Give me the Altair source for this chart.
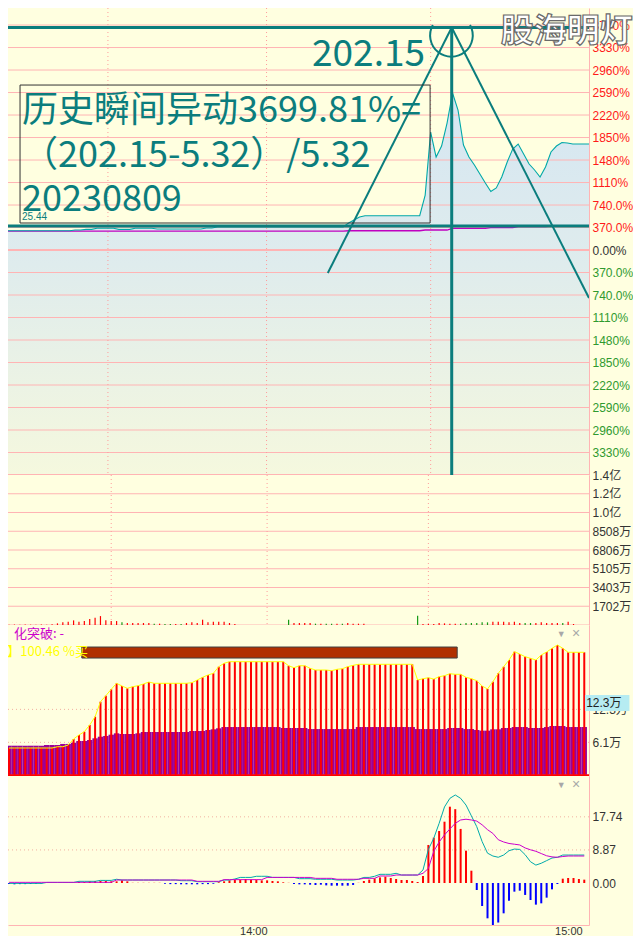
import json
import altair as alt
import pandas as pd

# ---------------- data ----------------
minute_index = list(range(108))

price_change_pct = [
    317, 317, 317, 317, 317, 317, 317, 317, 317, 317,
    317, 317, 317, 329, 329, 340, 340, 357, 357, 357,
    357, 340, 340, 340, 357, 357, 357, 357, 345, 345,
    345, 345, 345, 345, 345, 345, 345, 362, 362, 378,
    378, 378, 378, 378, 378, 378, 378, 378, 378, 378,
    378, 378, 378, 378, 378, 378, 378, 378, 378, 378,
    378, 378, 378, 444, 493, 543, 564, 564, 564, 564,
    564, 564, 564, 564, 564, 564, 564, 904, 1940, 1529,
    1710, 2088, 2582, 2302, 1727, 1529, 1398, 1250, 1102, 962,
    1020, 1200, 1447, 1661, 1743, 1579, 1414, 1316, 1200, 1365,
    1612, 1710, 1768, 1760, 1743, 1743, 1743, 1743,
]

avg_price_pct = [
    310, 310, 310, 310, 310, 310, 310, 310, 310, 310,
    310, 310, 310, 312, 312, 312, 312, 312, 312, 312,
    312, 312, 312, 312, 312, 312, 312, 312, 312, 312,
    312, 312, 312, 312, 312, 312, 312, 312, 312, 312,
    312, 312, 312, 312, 312, 312, 312, 312, 312, 312,
    312, 312, 312, 312, 312, 312, 312, 312, 312, 312,
    312, 312, 312, 317, 317, 317, 317, 317, 317, 317,
    317, 317, 317, 317, 317, 317, 317, 329, 329, 329,
    329, 329, 357, 357, 357, 357, 357, 357, 357, 367,
    367, 367, 367, 367, 383, 383, 383, 383, 383, 383,
    392, 392, 392, 392, 392, 392, 392, 392,
]

volume_wan = [
    30, 40, 30, 50, 30, 30, 40, 30, 60, 150,
    240, 300, 420, 300, 360, 540, 660, 810, 420, 360,
    360, 240, 180, 180, 180, 180, 180, 120, 120, 90,
    90, 90, 90, 180, 240, 180, 480, 240, 300, 300,
    300, 180, 90, 0, 0, 0, 0, 0, 0, 0,
    0, 0, 480, 180, 180, 180, 180, 120, 120, 120,
    120, 120, 120, 180, 120, 120, 120, 0, 0, 0,
    0, 0, 0, 0, 0, 0, 840, 90, 90, 90,
    180, 150, 120, 120, 120, 180, 180, 180, 240, 240,
    300, 300, 300, 240, 300, 180, 180, 180, 180, 240,
    180, 180, 180, 180, 300, 90, 0, 0,
]

volume_dir = [
    1, 1, 1, 1, 1, 1, 1, 1, 1, 1,
    1, 1, 1, 1, 1, 1, 1, 1, 1, 1,
    1, -1, 1, 1, 1, 1, 1, -1, 1, -1,
    -1, 1, -1, 1, 1, 1, 1, 1, 1, 1,
    1, 1, 1, 1, 1, 1, 1, 1, 1, 1,
    1, 1, -1, 1, 1, 1, 1, -1, 1, -1,
    -1, 1, -1, 1, 1, 1, 1, 1, 1, 1,
    1, 1, 1, 1, 1, 1, -1, 1, 1, 1,
    1, 1, 1, 1, -1, -1, -1, -1, -1, -1,
    1, 1, 1, 1, 1, 1, -1, -1, 1, 1,
    1, 1, 1, -1, 1, 1, 1, 1,
]

strength_red = [
    5.04, 5.04, 5.04, 5.04, 5.04, 5.04, 5.04, 5.04, 5.04, 5.28,
    5.28, 5.6, 6.73, 7.48, 8.1, 9.36, 10.92, 13.74, 14.87, 16.07,
    17.2, 16.69, 16.26, 16.56, 16.75, 17.07, 17.44, 17.2, 17.2, 17.2,
    17.2, 17.2, 17.2, 17.2, 17.31, 17.82, 18.33, 18.76, 19.08, 20.32,
    20.96, 21.26, 21.26, 21.26, 21.26, 21.26, 21.26, 21.26, 21.26, 21.26,
    21.26, 21.26, 20.5, 20.13, 20.5, 20.5, 20.02, 19.7, 19.7, 19.7,
    19.57, 19.83, 19.94, 20.32, 20.58, 20.77, 20.77, 20.77, 20.77, 20.77,
    20.77, 20.77, 20.77, 20.77, 20.77, 20.77, 17.82, 18.06, 18.25, 18.0,
    18.44, 18.63, 19.0, 18.89, 18.89, 18.33, 18.06, 17.69, 16.69, 16.13,
    17.5, 19.08, 20.32, 21.58, 23.14, 22.7, 22.2, 21.9, 21.58, 22.52,
    23.08, 23.78, 24.4, 23.78, 23.03, 23.03, 23.03, 23.03,
]

strength_purple = [
    5.47, 5.47, 5.47, 5.47, 5.47, 5.47, 5.47, 5.6, 5.6, 5.6,
    5.8, 5.8, 6.03, 6.35, 6.35, 6.54, 6.86, 7.16, 7.3, 7.54,
    7.8, 7.67, 7.67, 7.67, 7.8, 8.05, 8.05, 8.05, 8.05, 8.05,
    8.05, 8.05, 8.05, 8.05, 8.23, 8.23, 8.23, 8.42, 8.55, 8.74,
    8.98, 8.98, 8.98, 8.98, 8.98, 8.98, 8.98, 8.98, 8.98, 8.98,
    8.98, 8.8, 8.8, 8.8, 8.8, 8.8, 8.6, 8.6, 8.6, 8.6,
    8.6, 8.6, 8.6, 8.6, 8.6, 8.98, 8.98, 8.98, 8.98, 8.98,
    8.98, 8.98, 8.98, 8.98, 8.98, 8.98, 8.6, 8.6, 8.6, 8.6,
    8.6, 8.6, 8.8, 8.8, 8.8, 8.6, 8.6, 8.42, 8.3, 8.3,
    8.55, 8.55, 8.8, 8.8, 8.98, 8.98, 8.98, 8.8, 8.8, 8.8,
    8.98, 9.17, 9.17, 9.17, 8.98, 8.98, 8.98, 8.98,
]

macd_hist = [
    -0.3, -0.35, -0.3, -0.3, -0.25, -0.2, -0.15, 0.05, 0.05, 0.05,
    0.05, 0.1, 0.15, 0.27, 0.27, 0.45, 0.54, 0.54, 0.54, 0.45,
    0.45, 0.71, 0.45, 0.05, 0.05, 0.05, 0.05, 0.05, 0.05, -0.2,
    -0.3, -0.3, -0.35, -0.35, -0.35, -0.35, -0.3, -0.3, -0.2, 0.2,
    0.45, 0.71, 0.9, 0.9, 1.07, 0.9, 0.9, 0.71, 0.71, 0.54,
    0.45, 0.18, 0.05, -0.27, -0.36, -0.36, -0.45, -0.54, -0.45, -0.63,
    -0.71, -0.71, -0.71, -0.71, -0.54, 0.05, 0.54, 0.9, 1.25, 1.5,
    1.7, 1.34, 1.07, 0.8, 0.8, 0.54, 0.27, 1.88, 10.2, 12.15,
    13.94, 16.44, 20.46, 19.8, 14.5, 8.67, 3.3, -1.88, -6.17, -9.47,
    -11.4, -10.6, -8.13, -4.74, -2.32, -2.06, -3.2, -4.56, -5.8, -5.45,
    -3.93, -1.7, -0.27, 1.16, 1.34, 1.34, 1.07, 0.9,
]

macd_dif = [
    -0.1, -0.1, -0.1, -0.1, -0.1, -0.1, -0.1, 0.15, 0.15, 0.15,
    0.15, 0.15, 0.15, 0.45, 0.45, 0.45, 0.45, 0.7, 0.7, 0.7,
    1.0, 0.8, 0.8, 0.8, 0.8, 0.8, 0.8, 0.8, 0.8, 0.8,
    0.8, 0.8, 0.62, 0.62, 0.62, 0.35, 0.35, 0.35, 0.35, 0.35,
    0.8, 0.8, 1.07, 1.5, 1.5, 1.5, 1.8, 1.8, 1.8, 1.5,
    1.5, 1.5, 1.5, 1.5, 1.16, 1.16, 1.16, 1.0, 1.0, 1.0,
    1.0, 0.8, 0.8, 0.8, 0.8, 1.0, 1.5, 1.5, 1.8, 2.33,
    2.33, 2.33, 2.6, 2.14, 2.14, 2.14, 2.14, 3.5, 9.0, 12.0,
    16.0, 20.4, 22.7, 23.6, 22.7, 20.9, 18.0, 15.1, 11.1, 8.0,
    7.24, 6.9, 7.5, 8.66, 9.1, 9.0, 7.6, 5.7, 4.8, 5.3,
    6.0, 6.7, 6.9, 7.5, 7.5, 7.5, 7.5, 7.5,
]

macd_dea = [
    0.18, 0.18, 0.18, 0.18, 0.18, 0.18, 0.18, 0.18, 0.18, 0.18,
    0.18, 0.18, 0.18, 0.18, 0.18, 0.18, 0.18, 0.18, 0.18, 0.18,
    0.8, 0.8, 0.8, 0.8, 0.8, 0.8, 0.8, 0.8, 0.8, 0.8,
    0.8, 0.8, 0.8, 0.8, 0.8, 0.45, 0.45, 0.45, 0.45, 0.45,
    0.9, 0.9, 0.9, 0.9, 0.9, 0.9, 0.9, 0.9, 1.5, 1.5,
    1.5, 1.5, 1.5, 1.5, 1.5, 1.5, 1.5, 1.25, 1.25, 1.25,
    1.25, 1.0, 1.0, 1.0, 1.0, 1.0, 1.25, 1.25, 1.25, 1.88,
    1.88, 1.88, 2.14, 2.14, 2.14, 2.14, 2.14, 2.6, 3.9, 8.5,
    11.0, 12.9, 14.5, 16.0, 16.9, 17.1, 16.9, 16.6, 15.6, 14.3,
    13.3, 11.6, 11.0, 10.6, 10.4, 10.2, 9.4, 8.9, 8.5, 7.9,
    7.3, 7.0, 6.9, 7.1, 7.24, 7.24, 7.24, 7.24,
]

# tick values / labels
price_tick_values = [3700, 3330, 2960, 2590, 2220, 1850, 1480, 1110, 740, 370, 0,
                     -370, -740, -1110, -1480, -1850, -2220, -2590, -2960, -3330]
price_tick_labels = ["3700%", "3330%", "2960%", "2590%", "2220%", "1850%", "1480%", "1110%",
                     "740.0%", "370.0%", "0.00%", "370.0%", "740.0%", "1110%", "1480%",
                     "1850%", "2220%", "2590%", "2960%", "3330%"]
volume_tick_values = [1702, 3403, 5105, 6806, 8508, 10210, 11911, 13613]
volume_tick_labels = ["1702万", "3403万", "5105万", "6806万", "8508万", "1.0亿", "1.2亿", "1.4亿"]
strength_tick_values = [6.1, 12.3]
strength_tick_labels = ["6.1万", "12.3万"]
macd_tick_values = [0, 8.87, 17.74]
macd_tick_labels = ["0.00", "8.87", "17.74"]
time_tick_values = [48, 106.6]
time_tick_labels = ["14:00", "15:00"]
time_grid_values = [19, 48, 78]

# annotation texts
anno_price_text = "202.15"
anno_box_lines = ["历史瞬间异动3699.81%=", "（202.15-5.32）/5.32", "20230809"]
anno_small_text = "25.44"
watermark_text = "股海明灯"
strength_header = "化突破: -"
strength_sub = "度】100.46 %买"
strength_current = "12.3万"

# ---------------- styling constants ----------------
W = 581
PINK = "#ffb4b4"
TEAL = "#0b7d7d"
BG = "#ffffe0"
LABEL_FONT = "Liberation Sans, Noto Sans CJK SC"
CJK_FONT = "Noto Sans CJK SC"
X_DOMAIN = [0.73, 106.95]

df = pd.DataFrame({
    "i": minute_index,
    "price": price_change_pct,
    "avg": avg_price_pct,
    "vol": volume_wan,
    "vdir": volume_dir,
    "red": strength_red,
    "purple": strength_purple,
    "hist": macd_hist,
    "dif": macd_dif,
    "dea": macd_dea,
})
df["zero"] = 0
df["floor"] = -3700


def lookup_expr(values, labels):
    return f"{json.dumps(labels, ensure_ascii=False)}[indexof({json.dumps(values)}, datum.value)]"


def right_axis(values, labels, color="#333333"):
    return alt.Axis(orient="right", values=values, labelExpr=lookup_expr(values, labels),
                    labelColor=color, grid=False, ticks=False, domain=True, domainColor=PINK,
                    labelPadding=3, labelFlush=False, labelOverlap=False, labelBaseline="middle",
                    labelFont=LABEL_FONT, labelFontSize=12, title=None)


xscale = alt.Scale(domain=X_DOMAIN, nice=False, zero=False)


def encoders(yscale, yaxis, xaxis=None):
    def X(f):
        return alt.X(f, type="quantitative", scale=xscale, axis=xaxis, title=None)

    def Y(f, **kw):
        return alt.Y(f, type="quantitative", scale=yscale, axis=yaxis, title=None, **kw)
    return X, Y


def one(**cols):
    return pd.DataFrame({k: [v] for k, v in cols.items()})


# ================= price panel =================
price_axis = right_axis(price_tick_values, price_tick_labels,
                        {"expr": "datum.value > 0 ? '#ff1a1a' : (datum.value < 0 ? '#2f9a2f' : '#333333')"})
X, Y = encoders(alt.Scale(domain=[-3700, 3980], nice=False, zero=False), price_axis)

grad = alt.Gradient(gradient="linear", x1=0, x2=0, y1=0, y2=1, stops=[
    alt.GradientStop(color="#d5e6f2", offset=0),
    alt.GradientStop(color="#dfeced", offset=0.45),
    alt.GradientStop(color="#f5f8de", offset=1)])

area = alt.Chart(df).mark_area(fill=grad, clip=True).encode(x=X("i"), y=Y("price"), y2=alt.Y2("floor"))
pgrid = alt.Chart(pd.DataFrame({"v": [v for v in price_tick_values if v != 0]})).mark_rule(
    color=PINK, strokeWidth=1, clip=True).encode(y=Y("v"))
pzero = alt.Chart(pd.DataFrame({"v": [0, -3700]})).mark_rule(
    color=PINK, strokeWidth=2, clip=True).encode(y=Y("v"))
pvert = alt.Chart(pd.DataFrame({"t": time_grid_values})).mark_rule(
    color="#ff9c9c", strokeDash=[1, 3], clip=True).encode(x=X("t"))
avg_line = alt.Chart(df).mark_line(color="#c000c0", strokeWidth=1.3, clip=True).encode(x=X("i"), y=Y("avg"))
price_line = alt.Chart(df).mark_line(color="#00a8a8", strokeWidth=1.1, clip=True).encode(x=X("i"), y=Y("price"))
hlines = alt.Chart(pd.DataFrame({"v": [3660, 395]})).mark_rule(
    color=TEAL, strokeWidth=3, clip=True).encode(y=Y("v"))
segs = alt.Chart(pd.DataFrame({
    "x": [81.85, 81.85, 81.85], "y": [3660, 3660, 3660],
    "x2": [81.85, 59.2, 106.95], "y2": [-3700, -378, -789], "w": [3, 2, 2]})).mark_rule(
    color=TEAL, clip=True).encode(
    x=X("x"), y=Y("y"), x2=alt.X2("x2"), y2=alt.Y2("y2"), strokeWidth=alt.StrokeWidth("w:Q", scale=None))
ARC = "M -0.873 -0.488 A 1 1 0 1 0 0.873 -0.488"
arc = alt.Chart(one(x=81.8, y=3529)).mark_point(shape=ARC, size=1815, filled=False, color=TEAL,
                                                  strokeWidth=2, opacity=1).encode(x=X("x"), y=Y("y"))
box = alt.Chart(one(x=2.93, x2=77.9, y=2713, y2=444)).mark_rect(
    fill="transparent", stroke="#333333", strokeWidth=1).encode(
    x=X("x"), x2=alt.X2("x2"), y=Y("y"), y2=alt.Y2("y2"))
t_price = alt.Chart(one(x=76.97, y=3207, s=anno_price_text)).mark_text(
    align="right", baseline="middle", font=CJK_FONT, fontSize=37, color=TEAL).encode(
    x=X("x"), y=Y("y"), text="s:N")
t_box = alt.Chart(pd.DataFrame({"x": [3.29, 3.29, 3.29], "y": [2286, 1546, 822], "s": anno_box_lines})).mark_text(
    align="left", baseline="middle", font=CJK_FONT, fontSize=36, color=TEAL).encode(
    x=X("x"), y=Y("y"), text="s:N")
t_small = alt.Chart(one(x=3.29, y=543, s=anno_small_text)).mark_text(
    align="left", baseline="middle", font=LABEL_FONT, fontSize=10, color=TEAL).encode(
    x=X("x"), y=Y("y"), text="s:N")
t_wm = alt.Chart(one(x=102.9, y=3585, s=watermark_text)).mark_text(
    align="center", baseline="middle", font=CJK_FONT, fontSize=33, fontWeight="bold",
    fill="#ffffff", stroke="#6a6a6a", strokeWidth=1.2).encode(x=X("x"), y=Y("y"), text="s:N")

price_panel = alt.layer(area, pgrid, pzero, pvert, avg_line, price_line, hlines, segs, arc, box,
                        t_price, t_box, t_small, t_wm).properties(width=W, height=467)

# ================= volume panel =================
X, Y = encoders(alt.Scale(domain=[0, 13613], nice=False, zero=False),
                right_axis(volume_tick_values, volume_tick_labels))
vgrid = alt.Chart(pd.DataFrame({"v": volume_tick_values[:-1] + [0]})).mark_rule(
    color=PINK, strokeWidth=1, clip=True).encode(y=Y("v"))
vvert = alt.Chart(pd.DataFrame({"t": time_grid_values})).mark_rule(
    color="#ff9c9c", strokeDash=[1, 3], clip=True).encode(x=X("t"))
vbars = alt.Chart(df).mark_bar(size=1.2, clip=True).encode(
    x=X("i"), y=Y("vol", stack=None), y2=alt.Y2("zero"),
    color=alt.condition("datum.vdir > 0", alt.value("#ff0000"), alt.value("#159a15")))
volume_panel = alt.layer(vgrid, vvert, vbars).properties(width=W, height=150)

# ================= strength panel =================
X, Y = encoders(alt.Scale(domain=[-0.226, 28.16], nice=False, zero=False),
                right_axis(strength_tick_values, strength_tick_labels))
sgrid = alt.Chart(pd.DataFrame({"v": strength_tick_values})).mark_rule(
    color="#f2b0a0", strokeDash=[1, 3], clip=True).encode(y=Y("v"))
purple = alt.Chart(df).transform_calculate(lo="datum.i - 0.5", hi="datum.i + 0.5").mark_rect(
    color="#990099", clip=True).encode(x=X("lo"), x2=alt.X2("hi"), y=Y("purple"), y2=alt.Y2("zero"))
sbars = alt.Chart(df).mark_bar(size=2, color="#ff0000", clip=True).encode(
    x=X("i"), y=Y("red", stack=None), y2=alt.Y2("zero"))
sline = alt.Chart(df).mark_line(color="#ffff00", strokeWidth=1, clip=True).encode(x=X("i"), y=Y("red"))
sbase = alt.Chart(pd.DataFrame({"v": [-0.1]})).mark_rule(
    color="#ff0000", strokeWidth=2, clip=True).encode(y=Y("v"))
brown = alt.Chart(one(x=13.53, x2=83.36, y=24.02, y2=21.95)).mark_rect(
    fill="#b03000", stroke="#404040", strokeWidth=1).encode(
    x=X("x"), x2=alt.X2("x2"), y=Y("y"), y2=alt.Y2("y2"))
s_head = alt.Chart(one(x=0.9, y=26.47, s=strength_header)).mark_text(
    align="left", baseline="middle", font=CJK_FONT, fontSize=13, color="#cc00cc").encode(
    x=X("x"), y=Y("y"), text="s:N")
s_sub = alt.Chart(one(x=-2.74, y=23.08, s=strength_sub)).mark_text(
    align="left", baseline="middle", font=CJK_FONT, fontSize=13, color="#ffff00", clip=True).encode(
    x=X("x"), y=Y("y"), text="s:N")
icons = pd.DataFrame({"x": [102.7, 105.5], "s": ["▼", "×"], "fs": [9, 14]})
s_icons = alt.Chart(icons).transform_calculate(y="26.4").mark_text(
    align="center", baseline="middle", color="#a8a8a8").encode(
    x=X("x"), y=Y("y"), text="s:N", size=alt.Size("fs:Q", scale=None))
cyan_box = alt.Chart(one(x=107.13, x2=115.4, y=15.0, y2=11.99)).mark_rect(fill="#b6ecf2").encode(
    x=X("x"), x2=alt.X2("x2"), y=Y("y"), y2=alt.Y2("y2"))
cyan_text = alt.Chart(one(x=107.35, y=13.5, s=strength_current)).mark_text(
    align="left", baseline="middle", font=LABEL_FONT, fontSize=12, color="#222222").encode(
    x=X("x"), y=Y("y"), text="s:N")
strength_panel = alt.layer(sgrid, purple, sbars, sline, sbase, brown, s_head, s_sub, s_icons,
                           cyan_box, cyan_text).properties(width=W, height=151)

# ================= MACD panel =================
time_axis = alt.Axis(orient="bottom", values=time_tick_values, labelExpr=lookup_expr(time_tick_values, time_tick_labels),
                     labelAlign="right", ticks=False, grid=False, domain=True, domainColor=PINK,
                     labelColor="#333333", labelFont=LABEL_FONT, labelFontSize=11, labelPadding=0,
                     labelFlush=False, labelOverlap=False, title=None)
X, Y = encoders(alt.Scale(domain=[-11.26, 28.69], nice=False, zero=False),
                right_axis(macd_tick_values, macd_tick_labels), time_axis)
mgrid = alt.Chart(pd.DataFrame({"v": macd_tick_values[1:]})).mark_rule(
    color="#f2b0a0", strokeDash=[1, 3], clip=True).encode(y=Y("v"))
mbars = alt.Chart(df).mark_bar(size=2, clip=True).encode(
    x=X("i"), y=Y("hist", stack=None), y2=alt.Y2("zero"),
    color=alt.condition("datum.hist >= 0", alt.value("#ff0000"), alt.value("#0000ff")))
dif_line = alt.Chart(df).mark_line(color="#00aaaa", strokeWidth=1, clip=True).encode(x=X("i"), y=Y("dif"))
dea_line = alt.Chart(df).mark_line(color="#cc00cc", strokeWidth=1, clip=True).encode(x=X("i"), y=Y("dea"))
m_icons = alt.Chart(icons).transform_calculate(y="26.3").mark_text(
    align="center", baseline="middle", color="#a8a8a8").encode(
    x=X("x"), y=Y("y"), text="s:N", size=alt.Size("fs:Q", scale=None))
macd_panel = alt.layer(mgrid, mbars, dif_line, dea_line, m_icons).properties(width=W, height=149)

chart = alt.vconcat(price_panel, volume_panel, strength_panel, macd_panel,
                    spacing=0, bounds="flush").properties(
    padding={"left": 0, "top": 0, "right": 0, "bottom": 0}, background=BG
).configure(padding={"left": 0, "top": 0, "right": 0, "bottom": 0}).configure_view(stroke=None)

chart.save("out.html", embed_options={"renderer": "svg", "actions": False})
